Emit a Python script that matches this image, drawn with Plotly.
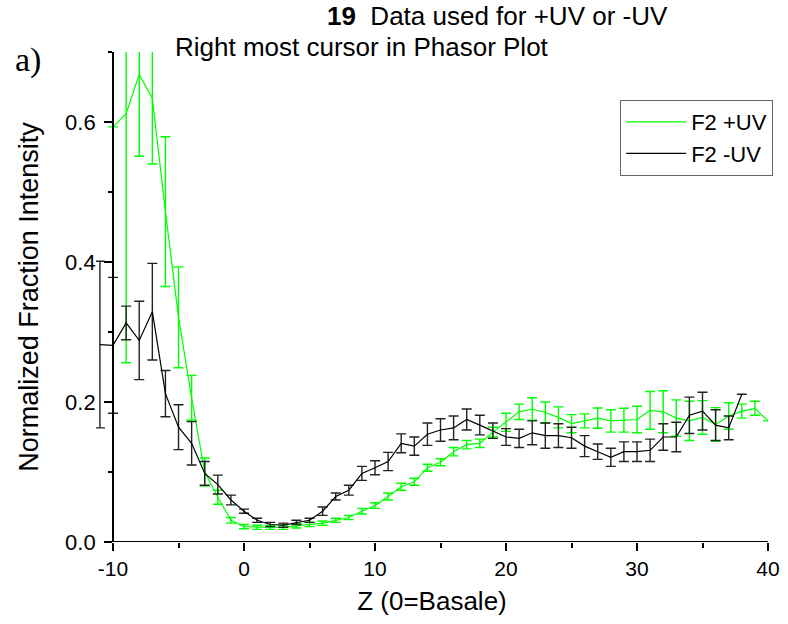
import plotly.graph_objects as go

# ---- data ----
z_uv_plus = list(range(-10, 41))
f2_uv_plus = [0.593, 0.612, 0.668, 0.634, 0.472, 0.321, 0.206, 0.100, 0.064, 0.031,
              0.022, 0.021, 0.021, 0.021, 0.023, 0.025, 0.027, 0.031, 0.035, 0.044,
              0.052, 0.065, 0.079, 0.086, 0.106, 0.114, 0.129, 0.139, 0.141, 0.157,
              0.171, 0.186, 0.190, 0.185, 0.178, 0.169, 0.173, 0.177, 0.173, 0.174,
              0.175, 0.188, 0.186, 0.177, 0.173, 0.178, 0.168, 0.180, 0.187, 0.191,
              0.173]
f2_uv_plus_err = [0.0, 0.356, 0.117, 0.094, 0.107, 0.072, 0.032, 0.020, 0.010, 0.004,
                  0.003, 0.003, 0.003, 0.003, 0.003, 0.003, 0.003, 0.003, 0.003, 0.004,
                  0.004, 0.005, 0.005, 0.005, 0.005, 0.005, 0.006, 0.006, 0.006, 0.007,
                  0.013, 0.011, 0.016, 0.015, 0.015, 0.013, 0.010, 0.0145, 0.016, 0.017,
                  0.019, 0.027, 0.030, 0.026, 0.028, 0.024, 0.024, 0.019, 0.010, 0.010,
                  0.0]

z_uv_minus = list(range(-11, 39))
f2_uv_minus = [0.282, 0.281, 0.313, 0.288, 0.329, 0.212, 0.164, 0.141, 0.098, 0.082,
               0.060, 0.044, 0.031, 0.025, 0.024, 0.028, 0.031, 0.044, 0.065, 0.074,
               0.098, 0.106, 0.115, 0.141, 0.137, 0.154, 0.160, 0.163, 0.175, 0.167,
               0.159, 0.150, 0.148, 0.156, 0.152, 0.152, 0.149, 0.137, 0.129, 0.121,
               0.129, 0.129, 0.131, 0.150, 0.150, 0.181, 0.187, 0.167, 0.163, 0.211]
f2_uv_minus_err = [0.119, 0.097, 0.024, 0.056, 0.069, 0.033, 0.032, 0.031, 0.017, 0.0135,
                   0.007, 0.003, 0.003, 0.003, 0.003, 0.003, 0.003, 0.006, 0.005, 0.007,
                   0.010, 0.010, 0.013, 0.0135, 0.013, 0.016, 0.016, 0.017, 0.015, 0.014,
                   0.011, 0.012, 0.013, 0.017, 0.018, 0.017, 0.015, 0.015, 0.011, 0.013,
                   0.014, 0.014, 0.016, 0.019, 0.021, 0.026, 0.027, 0.022, 0.017, 0.0]

x_tick_vals = [-10, 0, 10, 20, 30, 40]
x_tick_text = ["-10", "0", "10", "20", "30", "40"]
y_tick_vals = [0.0, 0.2, 0.4, 0.6]
y_tick_text = ["0.0", "0.2", "0.4", "0.6"]

GREEN = "#00ff00"
FONT = "Liberation Sans, Arial, sans-serif"

X_MIN, X_MAX = -11.3, 40
Y_MIN, Y_MAX = 0.0, 0.7

fig = go.Figure()
fig.add_trace(go.Scatter(
    x=z_uv_plus, y=f2_uv_plus, mode="lines", name="F2 +UV",
    line=dict(color=GREEN, width=1.2),
    error_y=dict(type="data", array=f2_uv_plus_err, visible=True,
                 color=GREEN, thickness=1.4, width=5),
))
fig.add_trace(go.Scatter(
    x=z_uv_minus, y=f2_uv_minus, mode="lines", name="F2 -UV",
    line=dict(color="black", width=1.2),
    error_y=dict(type="data", array=f2_uv_minus_err, visible=True,
                 color="#222222", thickness=1.4, width=5),
))

y_axis_pos = (x_tick_vals[0] - X_MIN) / (X_MAX - X_MIN)

fig.update_layout(
    width=788, height=624,
    margin=dict(l=96, r=20, t=52, b=82, autoexpand=False),
    paper_bgcolor="white", plot_bgcolor="white",
    font=dict(family=FONT, color="black", size=21),
    showlegend=True,
    legend=dict(x=0.78, y=0.902, xanchor="left", yanchor="top",
                bgcolor="white", bordercolor="#666666", borderwidth=1,
                font=dict(family=FONT, size=22, color="black"),
                tracegroupgap=0, itemwidth=60),
    xaxis=dict(range=[X_MIN, X_MAX], showgrid=False, zeroline=False,
               showline=False, ticks="outside", ticklen=8, tickwidth=1.5,
               tickcolor="black", tickvals=x_tick_vals, ticktext=x_tick_text,
               tickfont=dict(size=21),
               minor=dict(tickvals=[-5, 5, 15, 25, 35], ticks="outside",
                          ticklen=5, tickwidth=1.5, tickcolor="black"),
               title=dict(text="Z (0=Basale)", font=dict(size=26), standoff=12)),
    yaxis=dict(range=[Y_MIN, Y_MAX], anchor="free", position=y_axis_pos,
               showgrid=False, zeroline=False,
               showline=True, linecolor="black", linewidth=2,
               ticks="outside", ticklen=8, tickwidth=1.5, tickcolor="black",
               tickvals=y_tick_vals, ticktext=y_tick_text,
               tickfont=dict(size=22), ticklabelstandoff=4,
               minor=dict(tickvals=[0.1, 0.3, 0.5, 0.7], ticks="outside",
                          ticklen=4, tickwidth=1.5, tickcolor="black"),
               title=dict(text="Normalized Fraction Intensity",
                          font=dict(size=27), standoff=18)),
)

# bottom axis line starting at the y axis
fig.add_shape(type="line", xref="x", yref="y", x0=x_tick_vals[0], x1=x_tick_vals[-1],
              y0=Y_MIN, y1=Y_MIN, line=dict(color="black", width=2), layer="above")

fig.add_annotation(xref="paper", yref="paper", x=0.3408, y=1.0735,
                   xanchor="left", yanchor="middle", showarrow=False,
                   text="<b>19</b>  Data used for +UV or -UV",
                   font=dict(family=FONT, size=26, color="black"))
fig.add_annotation(xref="paper", yref="paper", x=0.1146, y=1.0102,
                   xanchor="left", yanchor="middle", showarrow=False,
                   text="Right most cursor in Phasor Plot",
                   font=dict(family=FONT, size=26, color="black"))
fig.add_annotation(xref="paper", yref="paper", x=-0.1012, y=0.9837,
                   xanchor="center", yanchor="middle", showarrow=False,
                   text="a)",
                   font=dict(family="Liberation Serif, Times New Roman, serif",
                             size=34, color="black"))

fig.write_html("out.html")
